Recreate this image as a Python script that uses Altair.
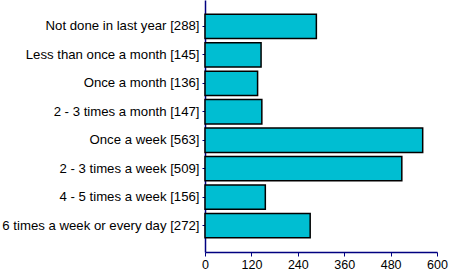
import altair as alt
import pandas as pd

categories = [
    "Not done in last year [288]",
    "Less than once a month [145]",
    "Once a month [136]",
    "2 - 3 times a month [147]",
    "Once a week [563]",
    "2 - 3 times a week [509]",
    "4 - 5 times a week [156]",
    "6 times a week or every day [272]",
]
values = [288, 145, 136, 147, 563, 509, 156, 272]
x_ticks = [0, 120, 240, 360, 480, 600]

df = pd.DataFrame({"category": categories, "value": values})

chart = alt.Chart(df).mark_bar(
    color="#00BED2", stroke="#000000", strokeWidth=1.5
).encode(
    x=alt.X("value:Q", scale=alt.Scale(domain=[0, 600], nice=False),
            axis=alt.Axis(values=x_ticks, title=None, grid=False,
                          domainColor="#000080", tickColor="#000080",
                          tickSize=4, labelFont="Liberation Sans",
                          labelFontSize=12.5, labelColor="#000000",
                          labelPadding=2, labelFlush=False)),
    y=alt.Y("category:N", sort=categories,
            scale=alt.Scale(paddingInner=0.143, paddingOuter=0.5),
            axis=alt.Axis(title=None, grid=False,
                          domainColor="#000080", tickColor="#000080",
                          tickSize=3, labelFont="Liberation Sans",
                          labelFontSize=13.2, labelColor="#000000",
                          labelPadding=3, labelLimit=300)),
).properties(
    width=232, height=252,
    padding={"left": 205, "top": 0, "right": 13, "bottom": 24},
    autosize="none",
).configure_view(stroke=None).configure_axis(domainWidth=1.5)

chart.save("out.html", embed_options={"renderer": "svg", "actions": False})
